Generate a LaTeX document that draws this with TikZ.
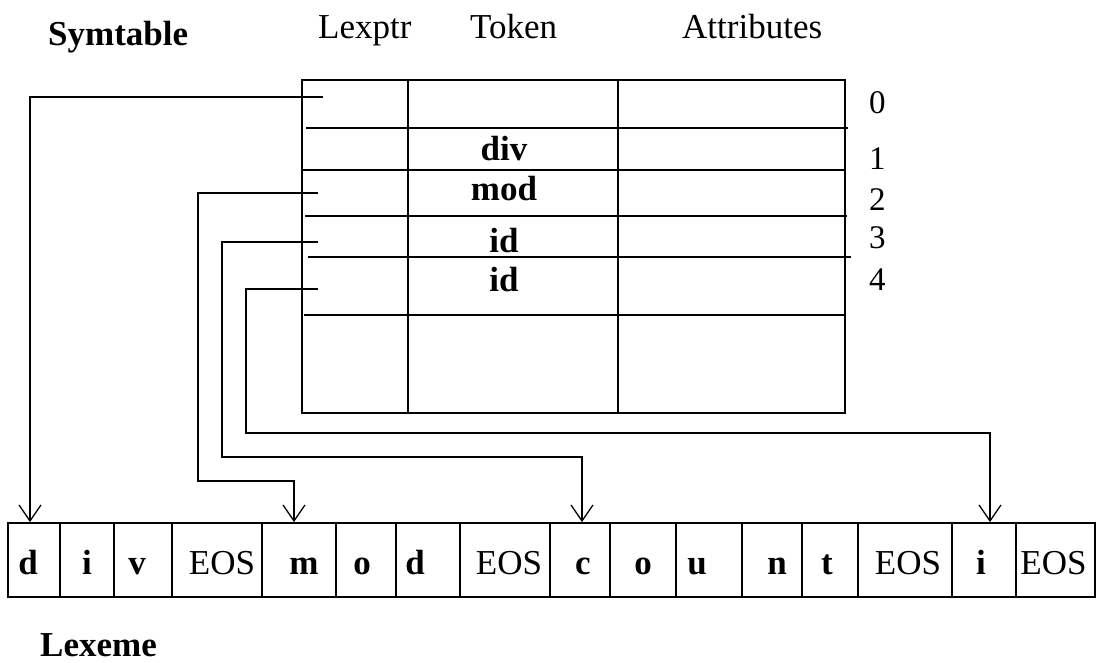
\documentclass[tikz,border=0pt]{standalone}
\usepackage{fontspec}
\setmainfont{Liberation Serif}
\usetikzlibrary{arrows.meta}

% shift the content of a centred cell sideways by #1
\newcommand{\cellshift}[2]{\makebox[0pt]{\hspace{#1}#2}}

\begin{document}
\begin{tikzpicture}[x=1pt,y=-1pt,
  grid/.style={line width=1.8pt},
  link/.style={line width=1.3pt,-{Straight Barb[length=16pt,width=22pt,line width=1.3pt]}},
  lbl/.style={font=\fontsize{35}{40}\selectfont,inner sep=0pt,anchor=base west},
  blbl/.style={lbl,font=\fontsize{35}{40}\selectfont\bfseries},
  idx/.style={font=\fontsize{33}{38}\selectfont,inner sep=0pt,anchor=base west},
  tok/.style={font=\fontsize{35}{40}\selectfont\bfseries,inner sep=0pt,anchor=base},
  cell/.style={draw,line width=1.8pt,inner sep=0pt,minimum height=74pt,
               text height=28pt,text depth=0pt,font=\fontsize{35}{40}\selectfont},
  bcell/.style={cell,font=\fontsize{35}{40}\selectfont\bfseries}]
\useasboundingbox (0,0) rectangle (1097,662);

% headings
\node[blbl] (symtab) at (48,45) {Symtable};
\node[lbl] (hlex) at (318,38) {Lexptr};
\node[lbl] (htok) at (470,38) {Token};
\node[lbl] (hatt) at (682,38) {Attributes};
\node[blbl] (lexeme) at (40,656) {Lexeme};

% symbol table
\draw[grid] (302,80) rectangle (845,413);
\draw[grid] (408,80) -- (408,413);
\draw[grid] (618,80) -- (618,413);
\draw[grid] (306,128) -- (848,128);
\draw[grid] (302,170) -- (845,170);
\draw[grid] (305,216) -- (847,216);
\draw[grid] (308,257) -- (851,257);
\draw[grid] (304,315) -- (846,315);

% tokens
\node[tok] (tdiv) at (504,160) {div};
\node[tok] (tmod) at (504,200) {mod};
\node[tok] (tid1) at (504,252) {id};
\node[tok] (tid2) at (504,291) {id};

% row numbers
\node[idx] (r0) at (869,113) {0};
\node[idx] (r1) at (869,169) {1};
\node[idx] (r2) at (869,210) {2};
\node[idx] (r3) at (869,248) {3};
\node[idx] (r4) at (869,290) {4};

% lexeme array
\node[bcell,minimum width=52pt] (c1) at (34,560) {\cellshift{-12pt}{d}};
\node[bcell,minimum width=54pt] (c2) at (87,560) {i};
\node[bcell,minimum width=58pt] (c3) at (143,560) {\cellshift{-12pt}{v}};
\node[cell,minimum width=90pt] (c4) at (217,560) {\cellshift{10pt}{EOS}};
\node[bcell,minimum width=74pt] (c5) at (299,560) {\cellshift{10pt}{m}};
\node[bcell,minimum width=60pt] (c6) at (366,560) {\cellshift{-8pt}{o}};
\node[bcell,minimum width=64pt] (c7) at (428,560) {\cellshift{-26pt}{d}};
\node[cell,minimum width=90pt] (c8) at (505,560) {\cellshift{8pt}{EOS}};
\node[bcell,minimum width=60pt] (c9) at (580,560) {\cellshift{6pt}{c}};
\node[bcell,minimum width=66pt] (c10) at (643,560) {o};
\node[bcell,minimum width=66pt] (c11) at (709,560) {\cellshift{-24pt}{u}};
\node[bcell,minimum width=60pt] (c12) at (772,560) {\cellshift{10pt}{n}};
\node[bcell,minimum width=56pt] (c13) at (830,560) {\cellshift{-6pt}{t}};
\node[cell,minimum width=94pt] (c14) at (905,560) {\cellshift{6pt}{EOS}};
\node[bcell,minimum width=64pt] (c15) at (984,560) {\cellshift{-6pt}{i}};
\node[cell,minimum width=79pt] (c16) at (1055.5,560) {\cellshift{-4pt}{EOS}};

% pointer sources in the Lexptr column
\coordinate (p0) at (323,97);
\coordinate (p2) at (318,193);
\coordinate (p3) at (318,242);
\coordinate (p4) at (318,289);

% pointers into the lexeme array
\draw[link] (p0) -| ([xshift=-4pt]c1.north);
\draw[link] (p2) -| (198,481) -| ([xshift=-5pt]c5.north);
\draw[link] (p3) -| (222,457) -| ([xshift=2pt]c9.north);
\draw[link] (p4) -| (246,433) -| ([xshift=6pt]c15.north);
\end{tikzpicture}
\end{document}
